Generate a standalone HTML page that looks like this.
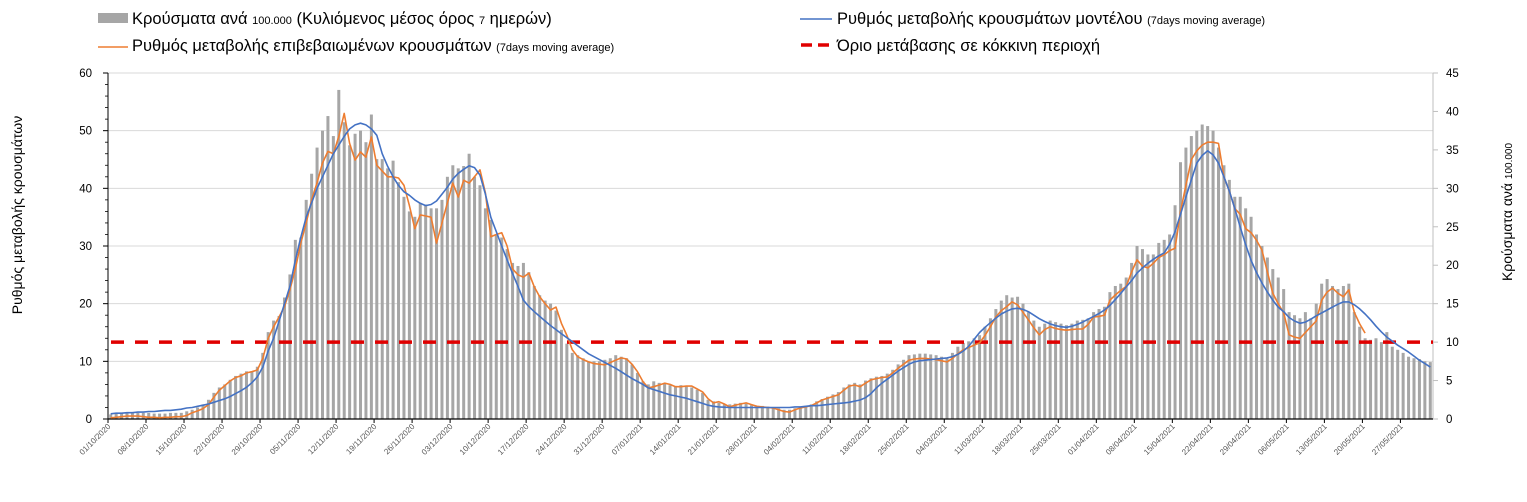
<!DOCTYPE html>
<html><head><meta charset="utf-8">
<style>
html,body{margin:0;padding:0;background:#fff;width:1527px;height:502px;overflow:hidden}
svg{display:block;font-family:"Liberation Sans","DejaVu Sans",sans-serif}
</style></head>
<body>
<svg id="chart" width="1527" height="502" viewBox="0 0 1527 502">
  <g id="grid"></g>
  <g id="bars"></g>
  <g id="axes"></g>
  <g id="lines"></g>
  <g id="legend">
    <rect x="98" y="13" width="30" height="10" fill="#a6a6a6"/>
    <text x="132" y="24" font-size="16.5" fill="#000">Κρούσματα ανά <tspan font-size="11">100.000</tspan> (Κυλιόμενος μέσος όρος <tspan font-size="11">7</tspan> ημερών)</text>
    <line x1="98" y1="47" x2="128" y2="47" stroke="#ed7d31" stroke-width="1.5"/>
    <text x="132" y="51" font-size="16.5" fill="#000">Ρυθμός μεταβολής επιβεβαιωμένων κρουσμάτων <tspan font-size="11">(7days moving average)</tspan></text>
    <line x1="800" y1="19" x2="832" y2="19" stroke="#4472c4" stroke-width="1.5"/>
    <text x="837" y="24" font-size="16.5" fill="#000">Ρυθμός μεταβολής κρουσμάτων μοντέλου <tspan font-size="11">(7days moving average)</tspan></text>
    <line x1="801" y1="45" x2="832" y2="45" stroke="#e00000" stroke-width="3.5" stroke-dasharray="11,6"/>
    <text x="837" y="51" font-size="16.5" fill="#000">Όριο μετάβασης σε κόκκινη περιοχή</text>
  </g>
  <text transform="translate(22,215) rotate(-90)" text-anchor="middle" font-size="14" fill="#000">Ρυθμός μεταβολής κρουσμάτων</text>
  <text transform="translate(1512,212) rotate(-90)" text-anchor="middle" font-size="14" fill="#000">Κρούσματα ανά <tspan font-size="10">100.000</tspan></text>
</svg>
<script>
// Data
const startDate = [2020, 10, 1]; // 01/10/2020
const casesPer100k = [
0.6,0.7,0.8,0.8,0.8,0.8,0.8,0.8,0.7,0.7,
0.7,0.8,0.8,0.8,1,1.2,1.5,1.9,2.5,3.4,
4.1,4.5,5.1,5.6,5.9,6.2,6.2,6.8,8.6,11.3,
12.8,13.4,15.8,18.8,23.3,23.6,28.5,31.9,35.3,37.5,
39.4,36.8,42.8,38.6,35.6,37.1,37.5,36,39.6,33.8,
33.8,32.6,33.6,30.8,28.9,27,26.3,28.1,27.9,27.4,
27.4,28.5,31.5,33,32.6,32.9,34.5,31.5,30.4,27.4,
25.9,24,23.6,22.1,20.3,19.9,20.3,19.1,17.3,16.1,
15.4,15,14.1,11.6,9.8,8.6,8.3,7.9,7.5,7.5,
7.5,7.7,7.9,8.3,8.1,7.9,7.1,6,4.9,4.5,
4.9,4.7,4.7,4.4,4.3,4.4,4.3,4.1,3.8,3.4,
2.5,2.3,2.1,1.9,1.9,2,2.1,2,1.8,1.7,
1.7,1.6,1.5,1.4,1.2,1.2,1.4,1.5,1.7,1.9,
2.3,2.6,2.9,3.2,3.5,4.1,4.5,4.7,4.5,5,
5.3,5.5,5.6,5.9,6.4,7.1,7.7,8.3,8.4,8.5,
8.5,8.4,8.3,8.1,8,8.6,9.4,9.9,10.1,10.5,
10.9,12,13.1,14.3,15.4,16.1,15.8,15.9,15,13.9,
12.8,12,12.4,12.8,12.6,12.4,12.2,12.4,12.8,12.9,
13.1,13.9,14.3,14.6,16.5,17.3,17.6,18.4,20.3,22.5,
22.1,21.4,21.4,22.9,23.3,24,27.8,33.4,35.3,36.8,
37.5,38.3,38.1,37.5,35.3,33,31.1,28.9,28.9,27.4,
26.3,24,22.5,21,19.5,18.4,16.9,13.9,13.5,13.1,
13.9,13.1,15,17.6,18.2,17.3,16.9,17.3,17.6,13.9,
12,10.5,10.3,10.5,10,11.3,9.4,9,8.6,8.1,7.9,7.8,7.5,7.4
];
const confirmedRate = [
0.2,0.3,0.4,0.5,0.5,0.5,0.4,0.3,0.3,0.2,
0.3,0.3,0.4,0.4,0.6,1.1,1.4,1.8,2.5,3.8,
5,5.8,6.6,7.2,7.5,8,8.2,8.5,10.5,14,
16,17.7,19.5,22.4,26,30.5,34,38,41,44.4,
46.4,46,49,53,47.8,44.9,46.3,45.4,48.9,44,
43,42,42,41.8,40.5,37,33,35.4,35.2,35,
30.5,34,37.5,40.9,38.5,41.4,40.9,42,43.2,39.2,
31.6,32,32.3,30,26,25,24.6,25.3,22.9,21.2,
20,18.9,19.4,16.6,14.5,12,10.8,10.3,9.9,9.6,
9.5,9.4,9.8,10.2,10.6,10.4,9.5,8.2,6.5,5.4,
5.6,5.9,6.2,6,5.6,5.6,5.7,5.7,5.2,4.7,
3.5,2.8,3,2.6,2.1,2.4,2.6,2.8,2.5,2.2,
2.1,2,1.9,1.6,1.3,1.2,1.6,1.9,2.1,2.3,
2.8,3.3,3.6,3.9,4.2,5,5.7,5.9,5.6,6.2,
6.8,7,7.2,7.3,8,8.8,9.5,10.2,10.4,10.5,
10.5,10.4,10.3,10.1,9.9,10.5,11.3,12,12.4,12.8,
13.2,14.5,16,17.7,18.8,19.5,20.3,19.8,18.5,17.2,
15.8,14.6,15.5,16,15.7,15.5,15.4,15.5,15.6,15.6,
16.4,17.7,17.8,18,20.6,21.5,22.3,23,25.5,27.6,
26.5,26.2,27,28,28.5,29.2,29.6,36,40.5,45,
46.5,47.5,48,48,47.8,42,39.5,36.5,35.5,33,
32.3,31,29.3,25.5,21.8,20,18.4,14.6,14.2,14,
15,16,17,20.6,22,22.7,21.8,21.2,22.4,18.5,
16.5,14.9
];
const modelRate = [
0.9,1,1,1.1,1.1,1.2,1.2,1.3,1.3,1.4,
1.5,1.5,1.6,1.7,1.9,2,2.2,2.4,2.6,2.9,
3.2,3.5,3.9,4.4,4.9,5.5,6.3,7.3,9,11.8,
14,17,20,23,27.5,31.5,35,37.5,40,42,
44,46,47.5,49,50.3,51,51.3,51,50.3,49.2,
46,43.8,42,40.5,39.4,38.8,38,37.4,37,37.2,
37.8,39,40.2,41.6,42.6,43.3,43.9,43.6,42.3,39,
35,32.5,30,27.6,25.2,23,20.6,19.5,18.6,17.8,
17,16.2,15.5,14.8,14.1,13.4,12.7,12,11.3,10.8,
10.3,9.8,9.3,8.8,8.2,7.6,7,6.5,6,5.4,
5.1,4.8,4.5,4.2,4,3.8,3.6,3.3,3,2.7,
2.4,2.2,2.1,2.05,2,2,2,2,2,2,
2,2,2,2,2,2,2.1,2.1,2.2,2.3,
2.3,2.4,2.5,2.6,2.7,2.8,2.9,3.1,3.3,3.7,
4.4,5.4,6.2,6.9,7.6,8.3,8.9,9.5,9.9,10.1,
10.2,10.3,10.4,10.5,10.6,10.8,11.2,11.8,12.6,13.8,
15,15.9,16.7,17.5,18.2,18.7,19.1,19.2,19,18.6,
18,17.4,16.9,16.5,16.2,16,15.9,16.1,16.4,16.8,
17.3,17.8,18.3,18.9,19.7,20.7,21.8,22.9,24,25.3,
26.2,27,27.7,28.3,28.8,30.3,32.5,35.5,38.5,41.5,
44.4,45.7,46.5,45.8,44.4,42,39.5,36.5,33.3,30.2,
27.5,25.4,23.6,22,20.6,19.4,18.6,17.6,17,16.6,
16.8,17.3,17.9,18.4,18.9,19.4,19.9,20.3,20.3,19.8,
19.1,18.2,17.2,16.1,15.1,14.2,13.5,12.8,12.2,11.6,
10.9,10.2,9.6,9.0
];
const thresholdPer100k = 10;
const leftTicks = [0,10,20,30,40,50,60];
const rightTicks = [0,5,10,15,20,25,30,35,40,45];

const NS = "http://www.w3.org/2000/svg";
const X0 = 108, X1 = 1433, YT = 73, YB = 419;
const nDays = casesPer100k.length;
const dayW = (X1 - X0) / nDays;
const xDay = d => X0 + (d + 0.5) * dayW;
const yL = v => YB - (v / 60) * (YB - YT);
const yR = v => YB - (v / 45) * (YB - YT);
function mk(tag, attrs, parent) {
  const e = document.createElementNS(NS, tag);
  for (const k in attrs) e.setAttribute(k, attrs[k]);
  parent.appendChild(e);
  return e;
}
const grid = document.getElementById('grid');
const axes = document.getElementById('axes');
const bars = document.getElementById('bars');
const lines = document.getElementById('lines');

leftTicks.forEach(t => {
  const y = yL(t);
  if (t > 0) {
    const g = mk('line', {x1: X0, x2: X1, y1: y, y2: y, stroke: '#d9d9d9', 'stroke-width': 1}, grid);
    
    
  }
  const lb = mk('text', {x: 92, y: y + 4, 'text-anchor': 'end', 'font-size': 11.5, fill: '#000'}, axes);
  lb.textContent = t;
  
  
  mk('line', {x1: X0 - 5, x2: X0, y1: y, y2: y, stroke: '#000', 'stroke-width': 1}, axes);
});
for (let v = 2; v < 60; v += 2) {
  if (v % 10 === 0) continue;
  mk('line', {x1: X0 - 3, x2: X0, y1: yL(v), y2: yL(v), stroke: '#000', 'stroke-width': 0.8}, axes);
}
rightTicks.forEach(t => {
  const y = yR(t);
  mk('line', {x1: X1, x2: X1 + 5, y1: y, y2: y, stroke: '#bfbfbf', 'stroke-width': 1}, axes);
  const lb = mk('text', {x: 1446, y: y + 4, 'font-size': 11.5, fill: '#000'}, axes);
  lb.textContent = t;
  
  
});
const la = mk('line', {x1: X0, x2: X0, y1: YT, y2: YB, stroke: '#000', 'stroke-width': 1}, axes);


const ra = mk('line', {x1: X1, x2: X1, y1: YT, y2: YB, stroke: '#bfbfbf', 'stroke-width': 1}, axes);



casesPer100k.forEach((v, d) => {
  const r = mk('rect', {x: xDay(d) - 1.5, y: yR(v), width: 3, height: YB - yR(v), fill: '#a6a6a6'}, bars);
  
  
});

const xa = mk('line', {x1: X0, x2: X1, y1: YB, y2: YB, stroke: '#000', 'stroke-width': 1.3}, axes);


const pad = n => (n < 10 ? '0' : '') + n;
for (let d = 0; d < nDays; d += 7) {
  const x = X0 + d * dayW;
  mk('line', {x1: x, x2: x, y1: YB, y2: YB + 4, stroke: '#000', 'stroke-width': 1}, axes);
  const dt = new Date(startDate[0], startDate[1] - 1, startDate[2] + d);
  const s = pad(dt.getDate()) + '/' + pad(dt.getMonth() + 1) + '/' + dt.getFullYear();
  const lb = mk('text', {transform: `translate(${x + 3},${YB + 8}) rotate(-45)`, 'text-anchor': 'end', 'font-size': 8, fill: '#555'}, axes);
  lb.textContent = s;
  
  
}

const th = mk('line', {x1: X0 + 3, x2: X1, y1: yR(thresholdPer100k), y2: yR(thresholdPer100k), stroke: '#e00000', 'stroke-width': 3.5, 'stroke-dasharray': '13,11'}, lines);



function path(arr, color, name) {
  const d = arr.map((v, i) => (i ? 'L' : 'M') + xDay(i).toFixed(1) + ',' + yL(v).toFixed(1)).join('');
  const p = mk('path', {d: d, fill: 'none', stroke: color, 'stroke-width': 1.6, 'stroke-linejoin': 'round'}, lines);
  
  
}
path(confirmedRate, '#ed7d31', 'line-confirmed-rate');
path(modelRate, '#4472c4', 'line-model-rate');
</script>
</body></html>
